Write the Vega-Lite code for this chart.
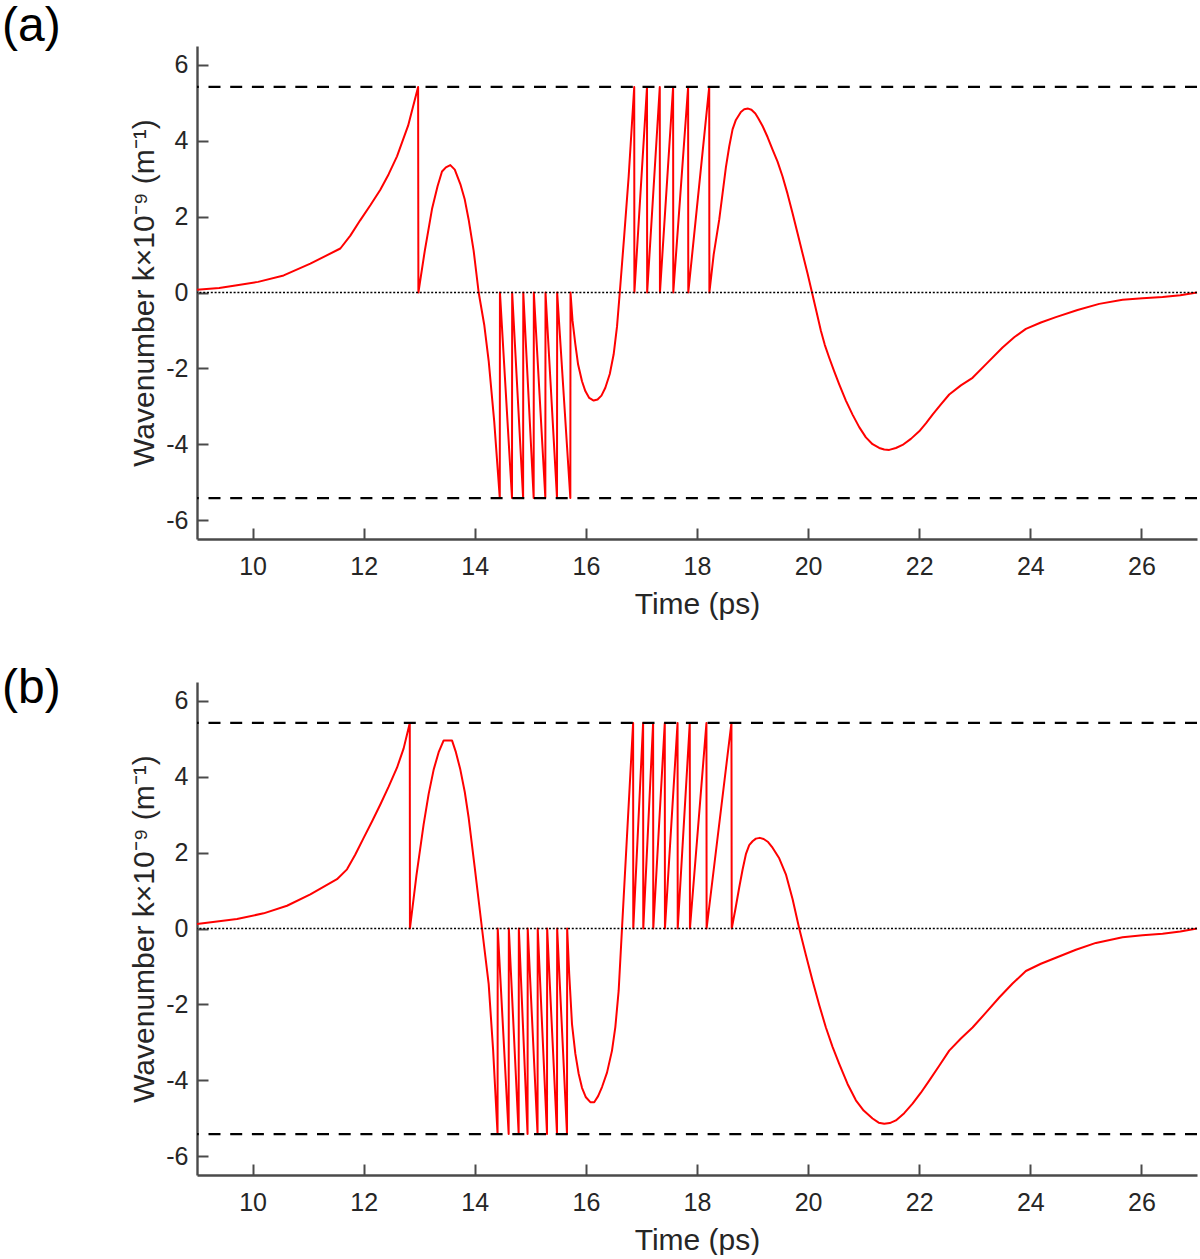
{
  "$schema": "https://vega.github.io/schema/vega-lite/v6.json",
  "autosize": {"type": "pad"},
  "padding": {"top": 3, "left": 2, "right": 0, "bottom": 0},
  "background": "white",
  "config": {
    "view": {"stroke": null},
    "font": "Liberation Sans",
    "axis": {
      "grid": false,
      "domainColor": "#4a4a4a",
      "domainWidth": 2.4,
      "tickColor": "#4a4a4a",
      "tickWidth": 2,
      "tickSize": -11,
      "labelFont": "Liberation Sans",
      "labelFontSize": 25,
      "labelColor": "#262626",
      "labelExpr": "'' + datum.value",
      "titleFont": "Liberation Sans",
      "titleFontSize": 30,
      "titleFontWeight": "normal",
      "titleColor": "#262626"
    },
    "axisX": {"labelPadding": 26, "titlePadding": 10},
    "axisY": {"labelPadding": 20, "titlePadding": 6},
    "title": {"font": "Liberation Sans", "fontSize": 48, "fontWeight": "normal", "color": "#000000", "anchor": "start", "frame": "group"}
  },
  "datasets": {
    "a": [
      {"t": 9.0, "k": 0.07}, {"t": 9.4, "k": 0.12}, {"t": 9.72, "k": 0.19}, {"t": 10.1, "k": 0.28},
      {"t": 10.56, "k": 0.45}, {"t": 11.04, "k": 0.76}, {"t": 11.58, "k": 1.16}, {"t": 11.76, "k": 1.5},
      {"t": 11.94, "k": 1.91}, {"t": 12.12, "k": 2.3}, {"t": 12.3, "k": 2.71}, {"t": 12.45, "k": 3.12}, {"t": 12.6, "k": 3.59},
      {"t": 12.8, "k": 4.4}, {"t": 12.98, "k": 5.42}, {"t": 12.985, "k": 0},
      {"t": 13.1, "k": 1.1}, {"t": 13.23, "k": 2.2}, {"t": 13.33, "k": 2.8}, {"t": 13.41, "k": 3.19}, {"t": 13.48, "k": 3.3},
      {"t": 13.56, "k": 3.36}, {"t": 13.64, "k": 3.24}, {"t": 13.74, "k": 2.86}, {"t": 13.82, "k": 2.45},
      {"t": 13.89, "k": 1.92}, {"t": 13.98, "k": 1.1}, {"t": 14.07, "k": 0}, {"t": 14.17, "k": -0.85},
      {"t": 14.25, "k": -1.8}, {"t": 14.35, "k": -3.4},
      {"t": 14.45, "k": -5.42}, {"t": 14.453, "k": 0},
      {"t": 14.67, "k": -5.42}, {"t": 14.673, "k": 0},
      {"t": 14.87, "k": -5.42}, {"t": 14.873, "k": 0},
      {"t": 15.06, "k": -5.42}, {"t": 15.063, "k": 0},
      {"t": 15.27, "k": -5.42}, {"t": 15.273, "k": 0},
      {"t": 15.48, "k": -5.42}, {"t": 15.483, "k": 0},
      {"t": 15.72, "k": -5.42}, {"t": 15.723, "k": 0},
      {"t": 15.76, "k": -0.75}, {"t": 15.81, "k": -1.36}, {"t": 15.86, "k": -1.9}, {"t": 15.93, "k": -2.34},
      {"t": 15.99, "k": -2.6}, {"t": 16.06, "k": -2.78}, {"t": 16.14, "k": -2.85}, {"t": 16.21, "k": -2.82},
      {"t": 16.28, "k": -2.72}, {"t": 16.35, "k": -2.51}, {"t": 16.43, "k": -2.15}, {"t": 16.5, "k": -1.63},
      {"t": 16.56, "k": -0.9}, {"t": 16.61, "k": 0}, {"t": 16.69, "k": 1.5}, {"t": 16.77, "k": 3.06},
      {"t": 16.87, "k": 5.42}, {"t": 16.873, "k": 0},
      {"t": 17.1, "k": 5.42}, {"t": 17.103, "k": 0},
      {"t": 17.33, "k": 5.42}, {"t": 17.333, "k": 0},
      {"t": 17.57, "k": 5.42}, {"t": 17.573, "k": 0},
      {"t": 17.84, "k": 5.42}, {"t": 17.843, "k": 0},
      {"t": 18.22, "k": 5.42}, {"t": 18.223, "k": 0},
      {"t": 18.3, "k": 1.0}, {"t": 18.4, "k": 1.92}, {"t": 18.52, "k": 3.3}, {"t": 18.58, "k": 3.85},
      {"t": 18.64, "k": 4.3}, {"t": 18.7, "k": 4.55}, {"t": 18.79, "k": 4.76}, {"t": 18.85, "k": 4.83},
      {"t": 18.92, "k": 4.85}, {"t": 18.98, "k": 4.82}, {"t": 19.05, "k": 4.72}, {"t": 19.1, "k": 4.6},
      {"t": 19.18, "k": 4.39}, {"t": 19.27, "k": 4.1}, {"t": 19.36, "k": 3.77}, {"t": 19.45, "k": 3.45},
      {"t": 19.54, "k": 3.06}, {"t": 19.63, "k": 2.6}, {"t": 19.72, "k": 2.09}, {"t": 19.81, "k": 1.56},
      {"t": 19.9, "k": 1.03}, {"t": 19.99, "k": 0.5}, {"t": 20.07, "k": 0}, {"t": 20.15, "k": -0.5},
      {"t": 20.23, "k": -1.01}, {"t": 20.3, "k": -1.38}, {"t": 20.38, "k": -1.72}, {"t": 20.47, "k": -2.08},
      {"t": 20.56, "k": -2.42}, {"t": 20.68, "k": -2.85}, {"t": 20.8, "k": -3.22}, {"t": 20.92, "k": -3.55},
      {"t": 21.04, "k": -3.82}, {"t": 21.16, "k": -4.0}, {"t": 21.28, "k": -4.1}, {"t": 21.37, "k": -4.14},
      {"t": 21.46, "k": -4.15}, {"t": 21.58, "k": -4.1}, {"t": 21.7, "k": -4.02}, {"t": 21.85, "k": -3.86},
      {"t": 22.0, "k": -3.66}, {"t": 22.12, "k": -3.45}, {"t": 22.24, "k": -3.22}, {"t": 22.39, "k": -2.95},
      {"t": 22.54, "k": -2.69}, {"t": 22.75, "k": -2.45}, {"t": 22.96, "k": -2.25}, {"t": 23.23, "k": -1.85},
      {"t": 23.5, "k": -1.45}, {"t": 23.71, "k": -1.18}, {"t": 23.92, "k": -0.96}, {"t": 24.19, "k": -0.79},
      {"t": 24.46, "k": -0.65}, {"t": 24.85, "k": -0.46}, {"t": 25.24, "k": -0.3}, {"t": 25.66, "k": -0.19},
      {"t": 26.02, "k": -0.15}, {"t": 26.38, "k": -0.12}, {"t": 26.7, "k": -0.07}, {"t": 27.0, "k": 0.0}
    ],
    "b": [
      {"t": 9.0, "k": 0.12}, {"t": 9.72, "k": 0.25}, {"t": 10.2, "k": 0.4}, {"t": 10.62, "k": 0.6},
      {"t": 11.04, "k": 0.9}, {"t": 11.52, "k": 1.3}, {"t": 11.7, "k": 1.56}, {"t": 11.85, "k": 1.95},
      {"t": 12.0, "k": 2.39}, {"t": 12.15, "k": 2.82}, {"t": 12.3, "k": 3.27}, {"t": 12.45, "k": 3.74},
      {"t": 12.6, "k": 4.24}, {"t": 12.72, "k": 4.75}, {"t": 12.83, "k": 5.42}, {"t": 12.833, "k": 0},
      {"t": 12.95, "k": 1.4}, {"t": 13.08, "k": 2.75}, {"t": 13.17, "k": 3.55}, {"t": 13.26, "k": 4.19},
      {"t": 13.35, "k": 4.65}, {"t": 13.44, "k": 4.96}, {"t": 13.59, "k": 4.96}, {"t": 13.66, "k": 4.65},
      {"t": 13.74, "k": 4.19}, {"t": 13.82, "k": 3.6}, {"t": 13.89, "k": 2.92}, {"t": 14.0, "k": 1.6},
      {"t": 14.13, "k": 0}, {"t": 14.25, "k": -1.46}, {"t": 14.33, "k": -3.2},
      {"t": 14.41, "k": -5.42}, {"t": 14.413, "k": 0},
      {"t": 14.61, "k": -5.42}, {"t": 14.613, "k": 0},
      {"t": 14.79, "k": -5.42}, {"t": 14.793, "k": 0},
      {"t": 14.95, "k": -5.42}, {"t": 14.953, "k": 0},
      {"t": 15.13, "k": -5.42}, {"t": 15.133, "k": 0},
      {"t": 15.3, "k": -5.42}, {"t": 15.303, "k": 0},
      {"t": 15.48, "k": -5.42}, {"t": 15.483, "k": 0},
      {"t": 15.66, "k": -5.42}, {"t": 15.663, "k": 0},
      {"t": 15.7, "k": -1.2}, {"t": 15.75, "k": -2.52}, {"t": 15.81, "k": -3.3}, {"t": 15.87, "k": -3.83},
      {"t": 15.93, "k": -4.2}, {"t": 16.0, "k": -4.45}, {"t": 16.08, "k": -4.58}, {"t": 16.15, "k": -4.58},
      {"t": 16.22, "k": -4.42}, {"t": 16.29, "k": -4.18}, {"t": 16.38, "k": -3.8}, {"t": 16.47, "k": -3.22},
      {"t": 16.53, "k": -2.6}, {"t": 16.59, "k": -1.64}, {"t": 16.65, "k": 0},
      {"t": 16.85, "k": 5.42}, {"t": 16.853, "k": 0},
      {"t": 17.03, "k": 5.42}, {"t": 17.033, "k": 0},
      {"t": 17.21, "k": 5.42}, {"t": 17.213, "k": 0},
      {"t": 17.42, "k": 5.42}, {"t": 17.423, "k": 0},
      {"t": 17.65, "k": 5.42}, {"t": 17.653, "k": 0},
      {"t": 17.87, "k": 5.42}, {"t": 17.873, "k": 0},
      {"t": 18.17, "k": 5.42}, {"t": 18.173, "k": 0},
      {"t": 18.62, "k": 5.42}, {"t": 18.625, "k": 0},
      {"t": 18.69, "k": 0.5}, {"t": 18.76, "k": 1.08}, {"t": 18.82, "k": 1.55}, {"t": 18.88, "k": 1.96},
      {"t": 18.94, "k": 2.2}, {"t": 19.0, "k": 2.3}, {"t": 19.06, "k": 2.37}, {"t": 19.13, "k": 2.39},
      {"t": 19.2, "k": 2.36}, {"t": 19.28, "k": 2.28}, {"t": 19.36, "k": 2.13}, {"t": 19.48, "k": 1.85},
      {"t": 19.6, "k": 1.43}, {"t": 19.72, "k": 0.78}, {"t": 19.84, "k": 0}, {"t": 19.96, "k": -0.7},
      {"t": 20.08, "k": -1.38}, {"t": 20.2, "k": -2.02}, {"t": 20.32, "k": -2.61}, {"t": 20.44, "k": -3.12},
      {"t": 20.56, "k": -3.57}, {"t": 20.71, "k": -4.1}, {"t": 20.86, "k": -4.53}, {"t": 21.0, "k": -4.8},
      {"t": 21.16, "k": -5.01}, {"t": 21.27, "k": -5.12}, {"t": 21.37, "k": -5.15}, {"t": 21.47, "k": -5.13},
      {"t": 21.58, "k": -5.06}, {"t": 21.73, "k": -4.87}, {"t": 21.88, "k": -4.62}, {"t": 22.03, "k": -4.33},
      {"t": 22.18, "k": -4.01}, {"t": 22.36, "k": -3.62}, {"t": 22.54, "k": -3.22}, {"t": 22.75, "k": -2.9},
      {"t": 22.96, "k": -2.61}, {"t": 23.2, "k": -2.22}, {"t": 23.44, "k": -1.82}, {"t": 23.68, "k": -1.45},
      {"t": 23.92, "k": -1.12}, {"t": 24.19, "k": -0.93}, {"t": 24.46, "k": -0.77}, {"t": 24.82, "k": -0.56},
      {"t": 25.18, "k": -0.38}, {"t": 25.66, "k": -0.23}, {"t": 26.02, "k": -0.18}, {"t": 26.38, "k": -0.14},
      {"t": 26.7, "k": -0.08}, {"t": 27.0, "k": 0.0}
    ]
  },
  "spacing": 143,
  "bounds": "flush",
  "vconcat": [
    {
      "width": 1000,
      "height": 493,
      "title": {"text": "(a)", "dx": -195, "offset": -5},
      "layer": [
        {
          "data": {"name": "a"},
          "mark": {"type": "line", "color": "#ff0000", "strokeWidth": 2, "strokeJoin": "round"},
          "encoding": {
            "x": {"field": "t", "type": "quantitative", "scale": {"domain": [9, 27], "nice": false, "zero": false},
                  "axis": {"title": "Time (ps)", "values": [10, 12, 14, 16, 18, 20, 22, 24, 26]}},
            "y": {"field": "k", "type": "quantitative", "scale": {"domain": [-6.5, 6.5], "nice": false},
                  "axis": {"title": "Wavenumber k×10⁻⁹ (m⁻¹)", "values": [-6, -4, -2, 0, 2, 4, 6]}}
          }
        },
        {
          "data": {"values": [{"k": 5.42}, {"k": -5.42}]},
          "mark": {"type": "rule", "color": "#000000", "strokeWidth": 2.2, "strokeDash": [12, 9.7]},
          "encoding": {"y": {"field": "k", "type": "quantitative"}}
        },
        {
          "data": {"values": [{"k": 0}]},
          "mark": {"type": "rule", "color": "#000000", "strokeWidth": 1.6, "strokeDash": [2, 1.8]},
          "encoding": {"y": {"field": "k", "type": "quantitative"}}
        }
      ]
    },
    {
      "width": 1000,
      "height": 493,
      "title": {"text": "(b)", "dx": -195, "offset": -5, "dy": 26},
      "layer": [
        {
          "data": {"name": "b"},
          "mark": {"type": "line", "color": "#ff0000", "strokeWidth": 2, "strokeJoin": "round"},
          "encoding": {
            "x": {"field": "t", "type": "quantitative", "scale": {"domain": [9, 27], "nice": false, "zero": false},
                  "axis": {"title": "Time (ps)", "values": [10, 12, 14, 16, 18, 20, 22, 24, 26]}},
            "y": {"field": "k", "type": "quantitative", "scale": {"domain": [-6.5, 6.5], "nice": false},
                  "axis": {"title": "Wavenumber k×10⁻⁹ (m⁻¹)", "values": [-6, -4, -2, 0, 2, 4, 6]}}
          }
        },
        {
          "data": {"values": [{"k": 5.42}, {"k": -5.42}]},
          "mark": {"type": "rule", "color": "#000000", "strokeWidth": 2.2, "strokeDash": [12, 9.7]},
          "encoding": {"y": {"field": "k", "type": "quantitative"}}
        },
        {
          "data": {"values": [{"k": 0}]},
          "mark": {"type": "rule", "color": "#000000", "strokeWidth": 1.6, "strokeDash": [2, 1.8]},
          "encoding": {"y": {"field": "k", "type": "quantitative"}}
        }
      ]
    }
  ]
}
